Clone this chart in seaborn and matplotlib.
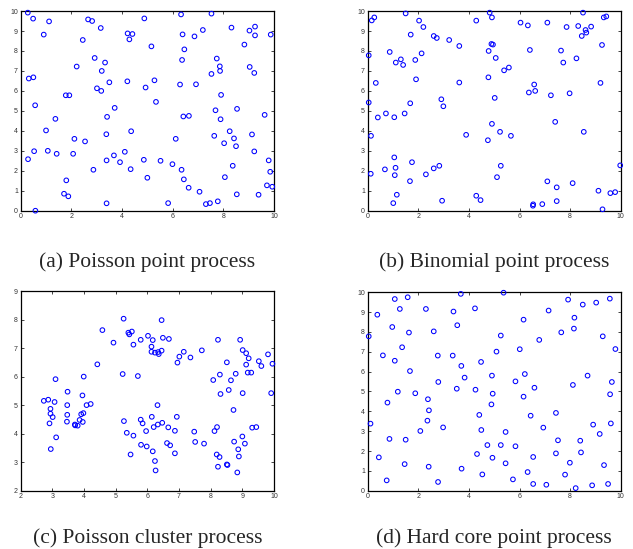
import numpy as np
import pandas as pd
import matplotlib
matplotlib.use('Agg')
import matplotlib.pyplot as plt
import seaborn as sns

sns.set_style('ticks')
plt.rcParams['font.family'] = ['Liberation Sans', 'DejaVu Sans']

# (a) Poisson point process
poisson_x = [0.28, 0.49, 1.12, 0.91, 2.66, 2.82, 3.16, 2.45, 4.22, 4.41, 4.29, 4.88, 2.92, 3.33, 2.21, 3.20,
             0.32, 0.50, 3.01, 3.18, 3.50, 4.21, 4.93, 1.78, 1.92, 0.57, 3.71, 3.41, 1.37, 1.00, 3.38, 4.36,
             2.12, 2.54, 0.53, 1.07, 1.42, 2.07, 0.29, 3.68, 4.11, 3.39, 3.92, 4.86, 4.34, 2.87, 5.00, 1.80,
             1.71, 1.88, 3.39, 0.58,
             6.33, 7.53, 6.39, 6.86, 7.19, 8.32, 9.03, 9.25, 9.25, 9.87, 5.16, 6.46, 8.83, 6.37, 7.74, 7.86,
             7.87, 7.53, 9.04, 9.22, 5.28, 6.29, 6.92, 7.91, 5.34, 7.69, 8.54, 9.63, 6.42, 6.64, 7.89, 6.12,
             7.64, 8.25, 8.03, 8.42, 8.50, 9.13, 9.22, 5.52, 5.99, 6.35, 6.44, 8.37, 8.06, 9.79, 9.85, 9.72,
             9.93, 6.63, 7.06, 8.53, 9.39, 5.82, 7.31, 7.47, 7.78]
poisson_y = [9.92, 9.62, 9.48, 8.82, 9.58, 9.50, 9.15, 8.55, 8.88, 8.85, 8.58, 9.63, 7.65, 7.42, 7.22, 7.00,
             6.62, 6.68, 6.13, 6.00, 6.43, 6.48, 6.17, 5.78, 5.78, 5.28, 5.15, 4.70, 4.60, 4.02, 3.83, 3.98,
             3.60, 3.47, 2.98, 3.00, 2.85, 2.85, 2.58, 2.77, 2.95, 2.52, 2.43, 2.55, 2.08, 2.05, 1.65, 1.52,
             0.85, 0.72, 0.37, 0.00,
             9.83, 9.87, 8.83, 8.73, 9.05, 9.17, 9.02, 9.22, 8.78, 8.82, 8.23, 8.08, 8.32, 7.55, 7.62, 7.23,
             7.00, 6.85, 7.20, 6.90, 6.53, 6.32, 6.33, 5.80, 5.45, 5.03, 5.10, 4.80, 4.72, 4.75, 4.58, 3.60,
             3.75, 3.98, 3.38, 3.62, 3.23, 3.82, 2.97, 2.50, 2.33, 2.05, 1.57, 2.25, 1.68, 2.52, 1.95, 1.27,
             1.20, 1.15, 0.95, 0.82, 0.80, 0.38, 0.33, 0.38, 0.47]

# (b) Binomial point process
binomial_x = [0.16, 0.26, 1.50, 2.03, 2.20, 1.70, 2.61, 2.73, 3.22, 3.62, 4.29, 4.82, 4.91, 0.04, 0.87, 2.13,
              1.31, 1.11, 1.40, 1.88, 1.91, 0.32, 3.62, 4.78, 4.89, 4.95, 5.06, 4.77, 5.02, 2.91, 2.99, 0.04,
              1.68, 0.40, 0.72, 1.05, 1.46, 4.91, 0.13, 3.89, 4.75, 5.23, 1.05, 1.10, 0.68, 1.07, 1.75, 1.67,
              2.30, 2.61, 2.83, 0.12, 1.15, 1.01, 2.94, 4.29, 4.46, 5.11, 5.26,
              5.66, 5.39, 5.58, 6.04, 6.33, 7.10, 6.41, 7.64, 7.73, 8.25, 7.86, 8.32, 8.51, 8.61, 8.64, 8.46,
              8.83, 9.33, 9.43, 9.26, 9.20, 6.58, 6.37, 6.62, 7.24, 7.98, 7.41, 8.54, 9.98, 7.10, 7.47, 8.10,
              7.47, 6.90, 6.54, 6.53, 9.12, 9.59, 9.78, 9.28]
binomial_y = [9.53, 9.68, 9.88, 9.52, 9.20, 8.82, 8.75, 8.65, 8.55, 8.25, 9.52, 9.92, 9.68, 7.78, 7.95, 7.88,
              7.58, 7.42, 7.30, 7.55, 6.58, 6.40, 6.42, 8.00, 8.35, 8.32, 7.65, 6.68, 5.65, 5.58, 5.23, 5.42,
              5.38, 4.67, 4.87, 4.68, 4.87, 4.35, 3.75, 3.80, 3.53, 3.95, 2.67, 2.15, 2.07, 1.78, 2.43, 1.48,
              1.82, 2.12, 2.25, 1.85, 0.80, 0.38, 0.50, 0.75, 0.53, 1.68, 2.25,
              3.75, 7.03, 7.17, 9.42, 9.28, 9.42, 8.05, 8.02, 7.42, 7.63, 9.20, 9.25, 9.92, 9.05, 8.92, 8.75,
              9.22, 9.68, 9.73, 8.30, 6.40, 6.32, 5.92, 6.00, 5.78, 5.88, 4.45, 3.95, 2.27, 1.47, 1.17, 1.38,
              0.48, 0.33, 0.32, 0.25, 1.00, 0.88, 0.93, 0.07]

# (c) Poisson cluster process
cluster_x = [5.25, 4.58, 4.93, 5.40, 5.43, 5.51, 5.56, 5.79, 6.02, 4.42, 5.22, 5.70, 3.10, 3.99, 2.73, 2.87,
             3.07, 3.48, 3.47, 3.95, 4.08, 4.21, 2.94, 2.94, 3.01, 2.91, 3.47, 3.46, 3.91, 3.98, 3.86, 3.71,
             3.72, 3.80, 3.96, 3.12, 2.95, 5.26, 5.35, 5.56, 5.47, 5.79, 5.85, 5.96, 5.80, 5.98,
             6.45, 6.17, 6.13, 6.13, 6.24, 6.34, 6.36, 6.45, 6.49, 6.68, 7.01, 7.15, 6.95, 7.36, 7.72, 8.23,
             8.93, 9.01, 9.12, 9.20, 9.81, 9.52, 9.60, 9.95, 9.12, 9.17, 9.28, 8.51, 8.79, 8.29, 8.08, 8.64,
             8.57, 8.31, 9.01, 9.91, 8.72, 6.32, 6.93, 6.14, 6.20, 6.33, 6.47, 6.66, 6.87, 6.17, 6.62, 6.72,
             6.87, 6.24, 6.26, 7.48, 7.51, 7.79, 8.12, 8.20, 8.19, 8.28, 8.23, 8.51, 8.53, 8.74, 9.00, 9.08,
             8.87, 8.89, 8.84, 9.31, 9.44]
cluster_y = [8.03, 7.63, 7.19, 7.54, 7.48, 7.58, 7.12, 7.29, 7.43, 6.43, 6.09, 6.02, 5.91, 6.00, 5.15, 5.19,
             5.11, 5.47, 5.00, 5.34, 5.00, 5.04, 4.87, 4.70, 4.58, 4.36, 4.66, 4.42, 4.68, 4.72, 4.48, 4.32,
             4.29, 4.28, 4.41, 3.87, 3.46, 4.44, 4.03, 3.93, 3.27, 4.49, 4.36, 4.09, 3.61, 3.55,
             7.98, 7.28, 7.05, 6.87, 6.84, 6.86, 6.79, 6.91, 7.36, 7.32, 6.70, 6.87, 6.49, 6.67, 6.92, 7.29,
             7.29, 6.93, 6.82, 6.64, 6.78, 6.54, 6.37, 6.45, 6.42, 6.14, 6.14, 6.50, 6.10, 6.07, 5.88, 5.87,
             5.53, 5.39, 5.42, 5.42, 4.83, 5.00, 4.59, 4.59, 4.23, 4.32, 4.38, 4.22, 4.10, 3.38, 3.67, 3.59,
             3.31, 3.04, 2.71, 4.07, 3.71, 3.65, 4.09, 4.23, 3.27, 3.18, 2.84, 2.92, 2.90, 3.72, 3.90, 3.65,
             3.45, 3.20, 2.64, 4.21, 4.23]

# (d) Hard core point process
hardcore_x = [1.07, 1.58, 3.68, 0.38, 1.27, 2.30, 3.39, 4.24, 0.97, 1.63, 2.61, 3.54, 0.04, 5.26, 1.36, 0.60,
              1.07, 2.77, 3.36, 4.48, 5.09, 3.70, 1.67, 2.79, 3.83, 3.52, 4.26, 4.91, 4.94, 1.19, 1.88, 0.78,
              2.38, 2.42, 2.36, 4.41, 4.89, 0.11, 2.98, 2.08, 4.49, 0.86, 1.50, 4.73, 5.26, 4.32, 0.44, 4.93,
              1.46, 2.41, 3.71, 4.53, 0.75, 2.78,
              5.37, 7.92, 8.50, 9.03, 9.57, 7.15, 6.16, 8.17, 8.15, 7.65, 6.78, 9.29, 6.01, 9.79, 6.21, 5.84,
              8.69, 8.11, 9.65, 6.59, 6.16, 9.58, 6.44, 7.44, 6.94, 8.91, 9.61, 9.17, 5.45, 5.84, 7.52, 8.40,
              8.43, 7.44, 6.54, 5.45, 7.99, 9.34, 6.32, 7.80, 5.74, 6.54, 7.06, 8.22, 8.87, 9.50]
hardcore_y = [9.66, 9.75, 9.92, 8.87, 9.16, 9.16, 9.03, 9.19, 8.25, 7.97, 8.03, 8.34, 7.78, 7.82, 7.23, 6.82,
              6.55, 6.81, 6.81, 6.49, 7.01, 6.29, 6.03, 5.48, 5.70, 5.14, 5.09, 5.80, 4.89, 4.99, 4.91, 4.44,
              4.61, 4.05, 3.53, 3.82, 4.35, 3.38, 3.19, 3.01, 3.06, 2.61, 2.57, 2.30, 2.30, 1.85, 1.68, 1.66,
              1.34, 1.21, 1.11, 0.82, 0.52, 0.44,
              9.98, 9.63, 9.38, 9.48, 9.68, 9.08, 8.62, 8.72, 8.17, 7.98, 7.60, 7.78, 7.13, 7.14, 5.88, 5.51,
              5.80, 5.33, 5.48, 5.19, 4.74, 4.86, 3.78, 3.92, 3.18, 3.33, 3.39, 2.86, 2.96, 2.24, 2.54, 2.52,
              1.93, 1.88, 1.70, 1.38, 1.41, 1.29, 0.94, 0.81, 0.57, 0.34, 0.30, 0.13, 0.27, 0.34]

captions = ['(a) Poisson point process', '(b) Binomial point process',
            '(c) Poisson cluster process', '(d) Hard core point process']

fig = plt.figure(figsize=(6.33, 5.49), dpi=100)
positions = [[0.0327, 0.6162, 0.4002, 0.3637],
             [0.5809, 0.6162, 0.3997, 0.3637],
             [0.0327, 0.1062, 0.4002, 0.3637],
             [0.5809, 0.1062, 0.3997, 0.3614]]
datasets = [(poisson_x, poisson_y), (binomial_x, binomial_y),
            (cluster_x, cluster_y), (hardcore_x, hardcore_y)]

for i, (xs, ys) in enumerate(datasets):
    ax = fig.add_axes(positions[i])
    df = pd.DataFrame({'x': xs, 'y': ys})
    sns.scatterplot(data=df, x='x', y='y', ax=ax, marker='o', s=11,
                    facecolor='none', edgecolor='#0000ff', linewidth=0.75, clip_on=False, zorder=3)
    if i == 2:
        ax.set_xlim(2, 10)
        ax.set_ylim(2, 9)
        ax.set_xticks(np.arange(2, 11, 1))
        ax.set_yticks(np.arange(2, 10, 1))
    else:
        ax.set_xlim(0, 10)
        ax.set_ylim(0, 10)
        ax.set_xticks(np.arange(0, 11, 2))
        ax.set_yticks(np.arange(0, 11, 1))
    ax.set_xlabel('')
    ax.set_ylabel('')
    for sp in ax.spines.values():
        sp.set_visible(True)
        sp.set_linewidth(0.9)
        sp.set_color('black')
    ax.tick_params(direction='in', top=True, right=True, length=2.5, width=0.6,
                   labelsize=5, labelcolor='#333333', pad=2)
    cx = positions[i][0] + positions[i][2] / 2
    cy = 0.5142 if i < 2 else 0.0115
    fig.text(cx, cy, captions[i], ha='center', va='baseline', fontsize=15.5,
             family=['Liberation Serif', 'DejaVu Serif'])

fig.savefig('out.png', dpi=100)
